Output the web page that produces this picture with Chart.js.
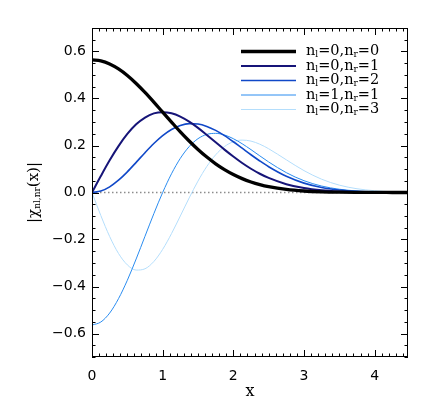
<!DOCTYPE html>
<html>
<head>
<meta charset="utf-8">
<script src="https://cdn.jsdelivr.net/npm/chart.js@4.4.1/dist/chart.umd.min.js"></script>
<style>
  html, body { margin: 0; padding: 0; background: #fff; }
  canvas { display: block; }
</style>
</head>
<body>
<canvas id="chart" width="436" height="416"></canvas>
<script>
const xValues = [0, 0.125, 0.25, 0.375, 0.5, 0.625, 0.75, 0.875, 1.0, 1.125, 1.25, 1.375, 1.5, 1.625, 1.75, 1.875, 2.0, 2.125, 2.25, 2.375, 2.5, 2.75, 3.0, 3.25, 3.5, 3.75, 4.0, 4.25, 4.5];

// series values
const chi00 = [0.564, 0.5598, 0.547, 0.5259, 0.498, 0.4641, 0.426, 0.3848, 0.342, 0.2997, 0.258, 0.2192, 0.183, 0.1507, 0.122, 0.0973, 0.0764, 0.059, 0.0449, 0.0336, 0.0248, 0.0129, 0.0063, 0.0029, 0.0012, 0.0005, 0.0002, 0.0001, 0];
const chi01 = [0, 0.07, 0.137, 0.1972, 0.249, 0.2901, 0.319, 0.3367, 0.342, 0.3372, 0.323, 0.3014, 0.275, 0.2449, 0.214, 0.1824, 0.153, 0.1254, 0.101, 0.0798, 0.062, 0.0354, 0.0188, 0.0093, 0.0043, 0.0019, 0.0008, 0.0003, 0.0001];
const chi02 = [0, 0.0062, 0.0242, 0.0523, 0.088, 0.1282, 0.1694, 0.2083, 0.242, 0.2681, 0.2854, 0.293, 0.2914, 0.2813, 0.2642, 0.2418, 0.216, 0.1884, 0.1607, 0.1341, 0.1095, 0.0688, 0.0399, 0.0214, 0.0107, 0.005, 0.0021, 0.0009, 0.0003];
const chi11 = [-0.564, -0.5511, -0.513, -0.4519, -0.3735, -0.2828, -0.1863, -0.0902, 0, 0.0796, 0.1453, 0.1952, 0.229, 0.2472, 0.2517, 0.2448, 0.229, 0.2074, 0.1824, 0.1559, 0.13, 0.0844, 0.0502, 0.0274, 0.0139, 0.0065, 0.0028, 0.0011, 0.0004];
const chi03 = [0, -0.0982, -0.1873, -0.2593, -0.308, -0.3301, -0.3246, -0.2938, -0.242, -0.175, -0.0999, -0.0233, 0.0486, 0.1109, 0.1604, 0.1955, 0.216, 0.223, 0.2187, 0.2055, 0.1862, 0.1391, 0.0931, 0.0565, 0.0313, 0.016, 0.0075, 0.0032, 0.0013];

// legend entries: [n_l, n_r]
const seriesLabels = [['0', '0'], ['0', '1'], ['0', '2'], ['1', '1'], ['0', '3']];
const seriesData = [chi00, chi01, chi02, chi11, chi03];
const seriesColors = ['#000000', '#161478', '#1048c8', '#2a8cf0', '#b4defc'];
const seriesWidths = [3.3, 2, 1.6, 1, 1];

// axes
const xMin = 0, xMax = 4.472;
const yMin = -0.7, yMax = 0.7;
const xTickValues = [0, 1, 2, 3, 4];
const xTickLabels = ['0', '1', '2', '3', '4'];
const yTickValues = [-0.6, -0.4, -0.2, 0.0, 0.2, 0.4, 0.6];
const yTickLabels = ['\u22120.6', '\u22120.4', '\u22120.2', '0.0', '0.2', '0.4', '0.6'];

const sansFont = 'DejaVu Sans';
const serifFont = 'DejaVu Serif';

// draw text made of normal and subscript parts
function drawParts(ctx, parts, x, y, size) {
    let cx = x;
    parts.forEach(p => {
        const sub = p[1];
        ctx.font = (sub ? Math.round(size * 0.6) : size) + 'px "' + serifFont + '"';
        ctx.fillText(p[0], cx, sub ? y + size * 0.25 : y);
        cx += ctx.measureText(p[0]).width;
    });
    return cx - x;
}
function measureParts(ctx, parts, size) {
    let w = 0;
    parts.forEach(p => {
        ctx.font = (p[1] ? Math.round(size * 0.6) : size) + 'px "' + serifFont + '"';
        w += ctx.measureText(p[0]).width;
    });
    return w;
}

// frame, inward ticks, legend and axis titles
const decorPlugin = {
    id: 'decor',
    afterDraw(chart) {
        const ctx = chart.ctx;
        const a = chart.chartArea;
        const xs = chart.scales.x, ys = chart.scales.y;
        ctx.save();
        ctx.strokeStyle = '#000';
        ctx.lineWidth = 1;
        ctx.strokeRect(a.left + 0.5, a.top + 0.5, a.right - a.left - 1, a.bottom - a.top - 1);

        ctx.beginPath();
        for (let i = 0; i <= 44; i++) {
            const v = i / 10;
            const px = Math.round(xs.getPixelForValue(v)) + 0.5;
            const len = (i % 10 === 0) ? 7 : 3.5;
            ctx.moveTo(px, a.bottom); ctx.lineTo(px, a.bottom - len);
            ctx.moveTo(px, a.top); ctx.lineTo(px, a.top + len);
        }
        for (let i = -14; i <= 14; i++) {
            const v = i * 0.05;
            const py = Math.round(ys.getPixelForValue(v)) + 0.5;
            const len = (i % 4 === 0 && Math.abs(i) <= 12) ? 7 : 3.5;
            ctx.moveTo(a.left, py); ctx.lineTo(a.left + len, py);
            ctx.moveTo(a.right, py); ctx.lineTo(a.right - len, py);
        }
        ctx.stroke();

        // legend
        ctx.fillStyle = '#000';
        ctx.textBaseline = 'middle';
        ctx.textAlign = 'left';
        seriesLabels.forEach((lab, i) => {
            const y = 51.5 + i * 14.5;
            ctx.strokeStyle = seriesColors[i];
            ctx.lineWidth = seriesWidths[i];
            ctx.beginPath();
            ctx.moveTo(241, y); ctx.lineTo(296, y);
            ctx.stroke();
            drawParts(ctx, [['n', false], ['l', true], ['=' + lab[0] + ',n', false], ['r', true], ['=' + lab[1], false]], 306, y, 14.5);
        });

        // x title
        ctx.font = '16px "' + serifFont + '"';
        ctx.textAlign = 'center';
        ctx.fillText('x', (a.left + a.right) / 2, 392);

        // y title
        ctx.translate(34, (a.top + a.bottom) / 2);
        ctx.rotate(-Math.PI / 2);
        ctx.textAlign = 'left';
        const yParts = [['|\u03c7', false], ['nl,nr', true], ['(x)|', false]];
        const w = measureParts(ctx, yParts, 15);
        drawParts(ctx, yParts, -w / 2, 0, 15);
        ctx.restore();
    }
};

const datasets = seriesData.map((vals, i) => ({
    label: 'n_l=' + seriesLabels[i][0] + ',n_r=' + seriesLabels[i][1],
    data: xValues.map((x, j) => ({ x: x, y: vals[j] })),
    borderColor: seriesColors[i],
    borderWidth: seriesWidths[i],
    cubicInterpolationMode: 'monotone',
    pointRadius: 0,
    fill: false
}));
// dotted zero line
datasets.push({
    label: 'zero',
    data: [{ x: xMin, y: 0 }, { x: xMax, y: 0 }],
    borderColor: '#8c8c8c',
    borderWidth: 1.5,
    borderDash: [1.5, 2.5],
    pointRadius: 0,
    order: 10
});

new Chart(document.getElementById('chart').getContext('2d'), {
    type: 'line',
    data: { datasets: datasets },
    options: {
        responsive: false,
        animation: false,
        layout: { padding: { left: 0, right: 28, top: 28, bottom: 0 } },
        plugins: { legend: { display: false }, tooltip: { enabled: false } },
        scales: {
            x: {
                type: 'linear', min: xMin, max: xMax,
                grid: { display: false, drawTicks: false },
                border: { display: false },
                afterBuildTicks: s => { s.ticks = xTickValues.map(v => ({ value: v })); },
                afterFit: s => { s.height = 59; },
                ticks: {
                    padding: 11, color: '#000', maxRotation: 0, autoSkip: false,
                    font: { family: sansFont, size: 14 },
                    callback: (v, i) => xTickLabels[i]
                }
            },
            y: {
                type: 'linear', min: yMin, max: yMax,
                grid: { display: false, drawTicks: false },
                border: { display: false },
                afterBuildTicks: s => { s.ticks = yTickValues.map(v => ({ value: v })); },
                afterFit: s => { s.width = 92; },
                ticks: {
                    padding: 6, color: '#000', autoSkip: false,
                    font: { family: sansFont, size: 14 },
                    callback: (v, i) => yTickLabels[i]
                }
            }
        }
    },
    plugins: [decorPlugin]
});
</script>
</body>
</html>
